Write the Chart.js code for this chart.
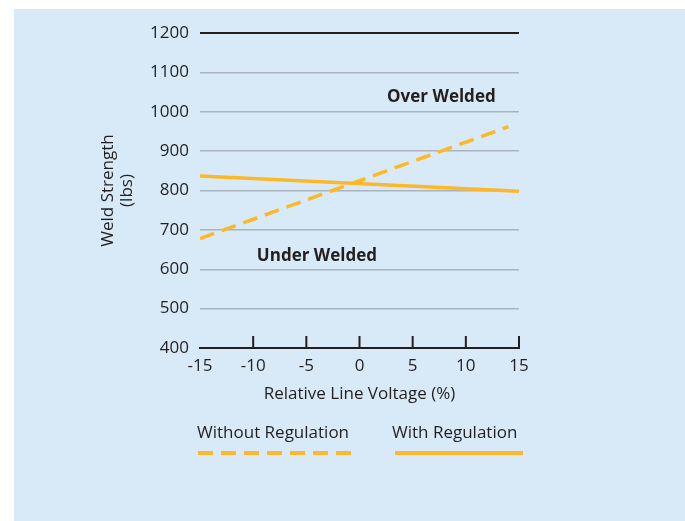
<!DOCTYPE html>
<html lang="en">
<head>
  <meta charset="UTF-8">
  <title>Weld Strength vs Line Voltage</title>
  <script src="https://cdn.jsdelivr.net/npm/chart.js"></script>
  <style>
    html, body { margin: 0; padding: 0; background: #fff; }
    canvas { display: block; }
  </style>
</head>
<body>
  <canvas id="weldChart" width="685" height="521"></canvas>
<script>
  // data
  const voltageRange = [-15, 15];
  const withoutRegulationX = [-15, 14];
  const withoutRegulationY = [678, 962];
  const withRegulationX = [-15, 15];
  const withRegulationY = [837, 798];
  const yTicks = [400, 500, 600, 700, 800, 900, 1000, 1100, 1200];
  const xTicks = [-15, -10, -5, 0, 5, 10, 15];
  const seriesNames = ['Without Regulation', 'With Regulation'];
  const zoneLabels = ['Over Welded', 'Under Welded'];
  const zoneX = [7.7, -4.0];
  const zoneY = [1037, 634];

  const orange = '#fdb827';
  const ink = '#231f20';
  const font = "'Open Sans', sans-serif";

  const toPoints = (xs, ys) => xs.map((x, i) => ({ x: x, y: ys[i] }));

  const panel = {
    id: 'panel',
    beforeDraw(chart) {
      const c = chart.ctx;
      c.save();
      c.fillStyle = '#d8eaf8';
      c.fillRect(14, 9, chart.width - 14, chart.height - 9);
      c.restore();
    }
  };

  // upward tick marks on the x axis, zone labels and the legend under the chart
  const extras = {
    id: 'extras',
    afterDraw(chart) {
      const c = chart.ctx;
      const xs = chart.scales.x;
      const ys = chart.scales.y;
      const area = chart.chartArea;
      c.save();
      c.strokeStyle = ink;
      c.lineWidth = 2;
      xTicks.slice(1).forEach(v => {
        const px = xs.getPixelForValue(v);
        c.beginPath();
        c.moveTo(px, area.bottom);
        c.lineTo(px, area.bottom - 12);
        c.stroke();
      });

      c.fillStyle = ink;
      c.font = 'bold 17px ' + font;
      c.textAlign = 'center';
      c.textBaseline = 'middle';
      zoneLabels.forEach((t, i) => {
        c.fillText(t, xs.getPixelForValue(zoneX[i]), ys.getPixelForValue(zoneY[i]));
      });

      c.font = '17px ' + font;
      c.textAlign = 'left';
      c.fillText(seriesNames[0], 197, 433);
      c.fillText(seriesNames[1], 392, 433);

      c.strokeStyle = orange;
      c.lineWidth = 4;
      c.setLineDash([15, 8]);
      c.beginPath();
      c.moveTo(198, 453);
      c.lineTo(351, 453);
      c.stroke();
      c.setLineDash([]);
      c.beginPath();
      c.moveTo(395, 453);
      c.lineTo(523, 453);
      c.stroke();
      c.restore();
    }
  };

  const ctx = document.getElementById('weldChart').getContext('2d');
  const weldChart = new Chart(ctx, {
    type: 'line',
    data: {
      datasets: [{
        label: seriesNames[0],
        data: toPoints(withoutRegulationX, withoutRegulationY),
        borderColor: orange,
        borderWidth: 3.5,
        borderDash: [15, 8],
        pointRadius: 0,
        fill: false
      }, {
        label: seriesNames[1],
        data: toPoints(withRegulationX, withRegulationY),
        borderColor: orange,
        borderWidth: 3.5,
        pointRadius: 0,
        fill: false
      }]
    },
    options: {
      responsive: false,
      animation: false,
      layout: {
        padding: { left: 98, top: 33, right: 166, bottom: 117 }
      },
      plugins: {
        legend: { display: false },
        tooltip: { enabled: false }
      },
      scales: {
        x: {
          type: 'linear',
          min: voltageRange[0],
          max: voltageRange[1],
          afterBuildTicks: s => { s.ticks = xTicks.map(v => ({ value: v })); },
          afterFit: s => { s.height = 56; },
          grid: { display: false, drawTicks: false },
          border: { display: true, color: ink, width: 2 },
          ticks: {
            padding: 8,
            color: ink,
            font: { family: font, size: 17 },
            maxRotation: 0,
            callback: v => String(v)
          },
          title: {
            display: true,
            text: 'Relative Line Voltage (%)',
            color: ink,
            font: { family: font, size: 17 },
            padding: 0
          }
        },
        y: {
          min: yTicks[0],
          max: yTicks[yTicks.length - 1],
          afterBuildTicks: s => { s.ticks = yTicks.map(v => ({ value: v })); },
          afterFit: s => { s.width = 102; },
          grid: {
            drawTicks: false,
            color: c => c.tick && c.tick.value === 1200 ? ink : '#aab4be',
            lineWidth: c => c.tick && c.tick.value === 1200 ? 2 : 1.5
          },
          border: { display: false },
          ticks: {
            padding: 11,
            color: ink,
            font: { family: font, size: 17 },
            callback: v => String(v)
          },
          title: {
            display: true,
            text: ['Weld Strength', '(lbs)'],
            color: ink,
            font: { family: font, size: 17, lineHeight: 1.15 },
            padding: 0
          }
        }
      }
    },
    plugins: [panel, extras]
  });
</script>
</body>
</html>
